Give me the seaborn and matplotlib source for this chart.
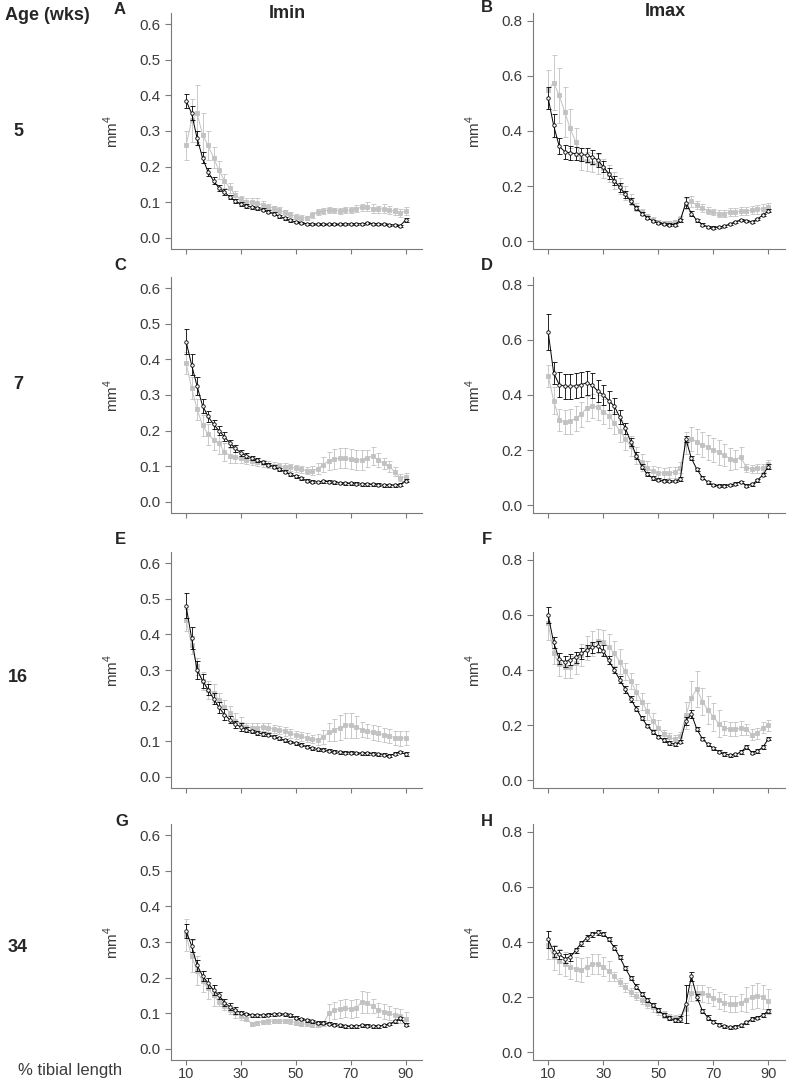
"""Imin / Imax along the tibia at four ages: black vs grey group, mean +/- error."""
import matplotlib

matplotlib.use("Agg")
import matplotlib.pyplot as plt
import pandas as pd
import seaborn as sns
from matplotlib.ticker import FormatStrFormatter

sns.set_theme(style="white")
plt.rcParams["font.family"] = ["Liberation Sans", "DejaVu Sans"]
plt.rcParams["mathtext.fontset"] = "custom"
plt.rcParams["mathtext.rm"] = "Liberation Sans"

W, H = 787, 1083
BLACK, GREY, AXIS, TXT = "#000000", "#c2c2c2", "#7a7a7a", "#3c3c3c"

PCT = list(range(10, 91, 2))  # % tibial length

# ---- A: Imin, 5 wks --------------------------------------------------------
A_BLK = [0.385, 0.35, 0.28, 0.225, 0.185, 0.16, 0.14, 0.128, 0.115, 0.103,
         0.095, 0.09, 0.086, 0.083, 0.079, 0.074, 0.068, 0.061, 0.055, 0.049,
         0.045, 0.042, 0.04, 0.039, 0.038, 0.038, 0.038, 0.038, 0.038, 0.039,
         0.039, 0.039, 0.04, 0.041, 0.04, 0.039, 0.038, 0.037, 0.036, 0.034,
         0.05]
A_BLK_ERR = [0.02, 0.02, 0.02, 0.015, 0.012, 0.01, 0.008, 0.008, 0.006, 0.006,
             0.005, 0.005, 0.004, 0.004, 0.004, 0.004, 0.004, 0.004, 0.004, 0.004,
             0.003, 0.003, 0.003, 0.003, 0.003, 0.003, 0.003, 0.003, 0.003, 0.003,
             0.003, 0.003, 0.003, 0.003, 0.003, 0.003, 0.003, 0.003, 0.003, 0.003,
             0.005]
A_GRY = [0.26, 0.33, 0.35, 0.29, 0.26, 0.225, 0.19, 0.16, 0.14, 0.12,
         0.108, 0.102, 0.1, 0.097, 0.093, 0.088, 0.083, 0.078, 0.072, 0.066,
         0.06, 0.057, 0.056, 0.065, 0.072, 0.076, 0.078, 0.077, 0.076, 0.078,
         0.078, 0.082, 0.086, 0.088, 0.082, 0.08, 0.082, 0.078, 0.075, 0.07,
         0.075]
A_GRY_ERR = [0.04, 0.06, 0.08, 0.06, 0.04, 0.03, 0.025, 0.02, 0.015, 0.012,
             0.01, 0.01, 0.012, 0.014, 0.01, 0.008, 0.008, 0.008, 0.007, 0.006,
             0.006, 0.006, 0.006, 0.008, 0.008, 0.008, 0.008, 0.008, 0.008, 0.008,
             0.008, 0.01, 0.01, 0.012, 0.012, 0.01, 0.012, 0.012, 0.01, 0.01,
             0.012]

# ---- B: Imax, 5 wks --------------------------------------------------------
B_BLK = [0.52, 0.42, 0.345, 0.325, 0.32, 0.318, 0.315, 0.312, 0.305, 0.295,
         0.27, 0.245, 0.22, 0.195, 0.17, 0.145, 0.12, 0.1, 0.085, 0.073,
         0.066, 0.062, 0.06, 0.06, 0.075, 0.14, 0.1, 0.075, 0.06, 0.052,
         0.049, 0.05, 0.055, 0.062, 0.07, 0.077, 0.074, 0.07, 0.08, 0.095,
         0.11]
B_BLK_ERR = [0.04, 0.04, 0.03, 0.025, 0.025, 0.025, 0.025, 0.025, 0.025, 0.025,
             0.02, 0.02, 0.018, 0.015, 0.012, 0.01, 0.008, 0.006, 0.005, 0.005,
             0.004, 0.004, 0.004, 0.004, 0.005, 0.02, 0.008, 0.005, 0.004, 0.004,
             0.004, 0.004, 0.004, 0.004, 0.004, 0.004, 0.004, 0.004, 0.005, 0.005,
             0.006]
B_GRY = [0.55, 0.575, 0.53, 0.47, 0.41, 0.36, 0.3, 0.29, 0.285, 0.28,
         0.265, 0.245, 0.22, 0.2, 0.175, 0.15, 0.125, 0.105, 0.09, 0.078,
         0.07, 0.066, 0.065, 0.068, 0.08, 0.135, 0.145, 0.13, 0.12, 0.11,
         0.105, 0.1, 0.1, 0.105, 0.105, 0.108, 0.11, 0.112, 0.115, 0.118,
         0.125]
B_GRY_ERR = [0.07, 0.1, 0.1, 0.09, 0.07, 0.05, 0.04, 0.035, 0.035, 0.035,
             0.035, 0.03, 0.03, 0.03, 0.025, 0.02, 0.015, 0.01, 0.01, 0.008,
             0.008, 0.008, 0.008, 0.008, 0.01, 0.02, 0.02, 0.015, 0.015, 0.012,
             0.012, 0.012, 0.012, 0.015, 0.015, 0.015, 0.015, 0.015, 0.015, 0.015,
             0.015]

# ---- C: Imin, 7 wks --------------------------------------------------------
C_BLK = [0.45, 0.385, 0.325, 0.27, 0.24, 0.218, 0.2, 0.183, 0.165, 0.15,
         0.138, 0.13, 0.123, 0.117, 0.111, 0.105, 0.099, 0.092, 0.085, 0.078,
         0.072, 0.066, 0.06, 0.057, 0.056, 0.058, 0.057, 0.055, 0.053, 0.052,
         0.052, 0.051, 0.05, 0.05, 0.049, 0.048, 0.047, 0.047, 0.047, 0.048,
         0.06]
C_BLK_ERR = [0.035, 0.03, 0.025, 0.02, 0.015, 0.012, 0.012, 0.012, 0.01, 0.01,
             0.008, 0.006, 0.006, 0.006, 0.005, 0.005, 0.005, 0.004, 0.004, 0.004,
             0.004, 0.004, 0.004, 0.004, 0.004, 0.004, 0.004, 0.004, 0.004, 0.004,
             0.004, 0.004, 0.004, 0.004, 0.004, 0.004, 0.004, 0.004, 0.004, 0.004,
             0.005]
C_GRY = [0.39, 0.32, 0.26, 0.215, 0.19, 0.175, 0.165, 0.14, 0.13, 0.125,
         0.122, 0.118, 0.115, 0.112, 0.108, 0.105, 0.102, 0.1, 0.098, 0.097,
         0.095, 0.092, 0.088, 0.088, 0.093, 0.105, 0.115, 0.12, 0.122, 0.122,
         0.12, 0.118, 0.118, 0.122, 0.13, 0.118, 0.108, 0.1, 0.085, 0.068,
         0.07]
C_GRY_ERR = [0.03, 0.03, 0.03, 0.03, 0.03, 0.03, 0.03, 0.025, 0.02, 0.015,
             0.012, 0.012, 0.01, 0.01, 0.01, 0.01, 0.01, 0.01, 0.01, 0.01,
             0.01, 0.01, 0.01, 0.012, 0.015, 0.02, 0.025, 0.028, 0.028, 0.028,
             0.028, 0.028, 0.028, 0.025, 0.025, 0.02, 0.015, 0.015, 0.012, 0.01,
             0.01]

# ---- D: Imax, 7 wks --------------------------------------------------------
D_BLK = [0.63, 0.48, 0.438, 0.432, 0.431, 0.434, 0.438, 0.444, 0.435, 0.415,
         0.4, 0.38, 0.36, 0.32, 0.28, 0.23, 0.18, 0.14, 0.112, 0.098,
         0.092, 0.088, 0.087, 0.087, 0.095, 0.24, 0.17, 0.13, 0.1, 0.083,
         0.073, 0.07, 0.07, 0.073, 0.078, 0.084, 0.07, 0.075, 0.09, 0.11,
         0.14]
D_BLK_ERR = [0.065, 0.04, 0.045, 0.045, 0.045, 0.045, 0.045, 0.045, 0.045, 0.04,
             0.035, 0.035, 0.03, 0.025, 0.02, 0.015, 0.012, 0.01, 0.008, 0.006,
             0.005, 0.005, 0.005, 0.005, 0.006, 0.012, 0.008, 0.006, 0.005, 0.005,
             0.005, 0.005, 0.005, 0.005, 0.005, 0.005, 0.005, 0.005, 0.005, 0.005,
             0.008]
D_GRY = [0.47, 0.38, 0.31, 0.302, 0.305, 0.315, 0.33, 0.352, 0.36, 0.355,
         0.34, 0.325, 0.3, 0.27, 0.24, 0.215, 0.18, 0.155, 0.135, 0.122,
         0.118, 0.116, 0.117, 0.12, 0.135, 0.225, 0.24, 0.23, 0.22, 0.21,
         0.2, 0.192, 0.182, 0.168, 0.165, 0.175, 0.135, 0.132, 0.133, 0.135,
         0.15]
D_GRY_ERR = [0.04, 0.05, 0.04, 0.045, 0.045, 0.045, 0.045, 0.045, 0.045, 0.045,
             0.045, 0.045, 0.04, 0.04, 0.04, 0.035, 0.03, 0.03, 0.025, 0.02,
             0.02, 0.02, 0.02, 0.02, 0.02, 0.04, 0.045, 0.045, 0.045, 0.045,
             0.045, 0.045, 0.04, 0.04, 0.035, 0.035, 0.015, 0.015, 0.015, 0.015,
             0.015]

# ---- E: Imin, 16 wks -------------------------------------------------------
E_BLK = [0.48, 0.39, 0.3, 0.27, 0.245, 0.22, 0.195, 0.175, 0.16, 0.148,
         0.14, 0.133, 0.128, 0.124, 0.121, 0.118, 0.113, 0.108, 0.103, 0.098,
         0.094, 0.09, 0.085, 0.08, 0.077, 0.076, 0.074, 0.071, 0.069, 0.068,
         0.068, 0.067, 0.066, 0.066, 0.065, 0.063, 0.062, 0.059, 0.065, 0.07,
         0.064]
E_BLK_ERR = [0.035, 0.03, 0.025, 0.02, 0.015, 0.015, 0.015, 0.015, 0.01, 0.01,
             0.01, 0.006, 0.005, 0.005, 0.005, 0.004, 0.004, 0.004, 0.004, 0.004,
             0.004, 0.004, 0.004, 0.004, 0.004, 0.004, 0.004, 0.004, 0.004, 0.004,
             0.004, 0.004, 0.004, 0.004, 0.004, 0.004, 0.004, 0.004, 0.004, 0.004,
             0.005]
E_GRY = [0.44, 0.37, 0.31, 0.27, 0.245, 0.235, 0.215, 0.195, 0.18, 0.158,
         0.148, 0.14, 0.138, 0.138, 0.14, 0.138, 0.135, 0.132, 0.128, 0.122,
         0.118, 0.114, 0.11, 0.106, 0.105, 0.112, 0.125, 0.132, 0.138, 0.145,
         0.145, 0.14, 0.133, 0.128, 0.125, 0.122, 0.118, 0.115, 0.11, 0.108,
         0.11]
E_GRY_ERR = [0.03, 0.025, 0.025, 0.025, 0.025, 0.025, 0.02, 0.02, 0.02, 0.02,
             0.02, 0.012, 0.012, 0.012, 0.012, 0.012, 0.012, 0.012, 0.012, 0.012,
             0.012, 0.012, 0.012, 0.012, 0.015, 0.02, 0.025, 0.03, 0.035, 0.035,
             0.035, 0.03, 0.02, 0.02, 0.02, 0.02, 0.02, 0.02, 0.02, 0.02,
             0.02]

# ---- F: Imax, 16 wks -------------------------------------------------------
F_BLK = [0.6, 0.5, 0.44, 0.43, 0.437, 0.447, 0.46, 0.472, 0.483, 0.486,
         0.47, 0.435, 0.4, 0.365, 0.33, 0.295, 0.26, 0.225, 0.198, 0.175,
         0.158, 0.145, 0.135, 0.13, 0.14, 0.215, 0.24, 0.185, 0.15, 0.13,
         0.115, 0.103, 0.095, 0.09, 0.093, 0.102, 0.12, 0.1, 0.105, 0.12,
         0.15]
F_BLK_ERR = [0.03, 0.02, 0.02, 0.02, 0.02, 0.02, 0.02, 0.02, 0.02, 0.02,
             0.02, 0.015, 0.012, 0.012, 0.012, 0.012, 0.01, 0.008, 0.006, 0.006,
             0.006, 0.006, 0.006, 0.006, 0.006, 0.015, 0.015, 0.008, 0.006, 0.006,
             0.006, 0.006, 0.006, 0.006, 0.006, 0.006, 0.006, 0.006, 0.006, 0.006,
             0.006]
F_GRY = [0.57, 0.46, 0.42, 0.412, 0.41, 0.425, 0.455, 0.48, 0.495, 0.505,
         0.5, 0.485, 0.46, 0.43, 0.395, 0.36, 0.32, 0.285, 0.25, 0.215,
         0.19, 0.168, 0.155, 0.148, 0.16, 0.235, 0.3, 0.33, 0.285, 0.255,
         0.23, 0.205, 0.19, 0.185, 0.185, 0.188, 0.185, 0.165, 0.17, 0.19,
         0.2]
F_GRY_ERR = [0.06, 0.04, 0.04, 0.04, 0.04, 0.04, 0.04, 0.045, 0.045, 0.045,
             0.045, 0.045, 0.045, 0.045, 0.03, 0.03, 0.03, 0.03, 0.03, 0.03,
             0.03, 0.015, 0.015, 0.015, 0.015, 0.05, 0.06, 0.065, 0.05, 0.05,
             0.05, 0.05, 0.025, 0.025, 0.025, 0.025, 0.02, 0.02, 0.02, 0.02,
             0.02]

# ---- G: Imin, 34 wks -------------------------------------------------------
G_BLK = [0.33, 0.29, 0.235, 0.205, 0.185, 0.165, 0.15, 0.13, 0.118, 0.108,
         0.102, 0.098, 0.095, 0.095, 0.095, 0.096, 0.097, 0.098, 0.097, 0.094,
         0.088, 0.084, 0.08, 0.077, 0.074, 0.073, 0.071, 0.068, 0.066, 0.064,
         0.063, 0.064, 0.066, 0.065, 0.064, 0.063, 0.066, 0.07, 0.077, 0.086,
         0.068]
G_BLK_ERR = [0.02, 0.018, 0.015, 0.015, 0.015, 0.015, 0.01, 0.01, 0.01, 0.01,
             0.005, 0.004, 0.004, 0.004, 0.004, 0.004, 0.004, 0.004, 0.004, 0.004,
             0.004, 0.004, 0.004, 0.004, 0.004, 0.004, 0.004, 0.004, 0.004, 0.004,
             0.004, 0.004, 0.004, 0.004, 0.004, 0.004, 0.004, 0.004, 0.004, 0.004,
             0.004]
G_GRY = [0.32, 0.26, 0.22, 0.19, 0.17, 0.15, 0.132, 0.12, 0.11, 0.1,
         0.092, 0.085, 0.07, 0.073, 0.076, 0.077, 0.078, 0.078, 0.078, 0.077,
         0.074, 0.071, 0.069, 0.068, 0.068, 0.07, 0.1, 0.108, 0.112, 0.115,
         0.112, 0.115, 0.132, 0.13, 0.12, 0.11, 0.105, 0.1, 0.095, 0.092,
         0.085]
G_GRY_ERR = [0.045, 0.045, 0.04, 0.03, 0.03, 0.03, 0.012, 0.012, 0.012, 0.012,
             0.012, 0.006, 0.006, 0.006, 0.006, 0.006, 0.006, 0.006, 0.006, 0.006,
             0.006, 0.006, 0.006, 0.006, 0.006, 0.006, 0.025, 0.025, 0.025, 0.025,
             0.025, 0.025, 0.03, 0.03, 0.02, 0.02, 0.02, 0.02, 0.02, 0.02,
             0.02]

# ---- H: Imax, 34 wks -------------------------------------------------------
H_BLK = [0.41, 0.365, 0.355, 0.34, 0.345, 0.37, 0.395, 0.415, 0.428, 0.435,
         0.43, 0.41, 0.38, 0.345, 0.305, 0.27, 0.238, 0.212, 0.19, 0.17,
         0.152, 0.135, 0.123, 0.116, 0.12, 0.175, 0.275, 0.2, 0.15, 0.125,
         0.11, 0.1, 0.093, 0.09, 0.092, 0.097, 0.108, 0.12, 0.125, 0.135,
         0.15]
H_BLK_ERR = [0.03, 0.02, 0.015, 0.015, 0.015, 0.01, 0.01, 0.01, 0.01, 0.01,
             0.008, 0.008, 0.008, 0.008, 0.008, 0.008, 0.008, 0.008, 0.008, 0.008,
             0.008, 0.008, 0.008, 0.008, 0.01, 0.07, 0.015, 0.01, 0.008, 0.008,
             0.006, 0.006, 0.006, 0.006, 0.006, 0.006, 0.006, 0.006, 0.006, 0.006,
             0.008]
H_GRY = [0.39, 0.345, 0.33, 0.32, 0.31, 0.302, 0.298, 0.31, 0.32, 0.32,
         0.31, 0.295, 0.275, 0.255, 0.235, 0.218, 0.205, 0.19, 0.175, 0.162,
         0.148, 0.137, 0.127, 0.122, 0.125, 0.155, 0.215, 0.215, 0.213, 0.208,
         0.198, 0.188, 0.18, 0.175, 0.175, 0.18, 0.19, 0.2, 0.205, 0.2,
         0.185]
H_GRY_ERR = [0.05, 0.045, 0.045, 0.045, 0.045, 0.045, 0.045, 0.035, 0.035, 0.035,
             0.035, 0.035, 0.015, 0.015, 0.015, 0.015, 0.015, 0.015, 0.015, 0.015,
             0.012, 0.012, 0.012, 0.012, 0.012, 0.02, 0.03, 0.03, 0.03, 0.03,
             0.03, 0.03, 0.03, 0.03, 0.03, 0.03, 0.045, 0.045, 0.045, 0.045,
             0.045]

PANELS = {
    "A": (A_BLK, A_BLK_ERR, A_GRY, A_GRY_ERR),
    "B": (B_BLK, B_BLK_ERR, B_GRY, B_GRY_ERR),
    "C": (C_BLK, C_BLK_ERR, C_GRY, C_GRY_ERR),
    "D": (D_BLK, D_BLK_ERR, D_GRY, D_GRY_ERR),
    "E": (E_BLK, E_BLK_ERR, E_GRY, E_GRY_ERR),
    "F": (F_BLK, F_BLK_ERR, F_GRY, F_GRY_ERR),
    "G": (G_BLK, G_BLK_ERR, G_GRY, G_GRY_ERR),
    "H": (H_BLK, H_BLK_ERR, H_GRY, H_GRY_ERR),
}
AGES = ["5", "7", "16", "34"]

rows = []
for key, (blk, blk_err, gry, gry_err) in PANELS.items():
    for grp, vals, errs in (("grey", gry, gry_err), ("black", blk, blk_err)):
        rows += [dict(panel=key, group=grp, pct=p, value=v, err=e)
                 for p, v, e in zip(PCT, vals, errs)]
df = pd.DataFrame(rows)

# layout in pixels (left, width) per column, (bottom) per row
COL_X = [(171, 251), (533, 252)]
ROW_BOTTOM = [249, 513, 788, 1060]
AX_H = 236
LETTER_XY = {"A": (120, 9), "B": (487, 8), "C": (120, 266), "D": (487, 266),
             "E": (120, 540), "F": (487, 540), "G": (122, 821), "H": (487, 821)}


def fig_text(fig, x, y, s, **kw):
    fig.text(x / W, 1 - y / H, s, va="center", **kw)


def draw_panel(ax, d):
    styles = (("grey", GREY, "s", 2.6, GREY), ("black", BLACK, "o", 2.5, "white"))
    for grp, color, marker, ms, mfc in styles:
        s = d[d["group"] == grp]
        ax.errorbar(s["pct"], s["value"], yerr=s["err"], fmt="none", ecolor=color,
                    elinewidth=0.6, capsize=1.8, capthick=0.6)
        sns.lineplot(data=s, x="pct", y="value", color=color, lw=0.7,
                     marker=marker, markersize=ms, markerfacecolor=mfc,
                     markeredgecolor=color, markeredgewidth=0.6,
                     errorbar=None, legend=False, ax=ax)


fig = plt.figure(figsize=(W / 100, H / 100), dpi=100)
for i, key in enumerate(PANELS):
    r, c = divmod(i, 2)
    left, width = COL_X[c]
    ax = fig.add_axes([left / W, 1 - ROW_BOTTOM[r] / H, width / W, AX_H / H])
    draw_panel(ax, df[df["panel"] == key])

    ax.set_xlim(4.5, 96)
    ax.set_xticks([10, 30, 50, 70, 90])
    if c == 0:
        ax.set_ylim(-0.031, 0.631)
        ax.set_yticks([0.0, 0.1, 0.2, 0.3, 0.4, 0.5, 0.6])
    else:
        ax.set_ylim(-0.029, 0.829)
        ax.set_yticks([0.0, 0.2, 0.4, 0.6, 0.8])
    ax.yaxis.set_major_formatter(FormatStrFormatter("%.1f"))
    if r < 3:
        ax.set_xticklabels([])
    ax.set_xlabel("")
    ax.set_ylabel("mm$^4$", fontsize=11, color=TXT)
    ax.yaxis.set_label_coords(-0.2, 0.5)

    sns.despine(ax=ax)
    for side in ("left", "bottom"):
        ax.spines[side].set_color(AXIS)
        ax.spines[side].set_linewidth(0.8)
    ax.tick_params(direction="out", length=4, width=0.8, color=AXIS,
                   labelsize=11, labelcolor=TXT, bottom=True, left=True)
    ax.tick_params(axis="x", length=3.5, pad=1.5, labelsize=10.5)

    lx, ly = LETTER_XY[key]
    fig_text(fig, lx, ly, key, ha="center", fontsize=12, fontweight="bold")

fig_text(fig, 5, 15, "Age (wks)", ha="left", fontsize=13, fontweight="bold")
fig_text(fig, 287, 13, "Imin", ha="center", fontsize=13, fontweight="bold")
fig_text(fig, 665, 11, "Imax", ha="center", fontsize=13, fontweight="bold")
for age, y in zip(AGES, [131, 385, 677, 948]):
    fig_text(fig, 18, y, age, ha="center", fontsize=13, fontweight="bold")
fig_text(fig, 18, 1070, "% tibial length", ha="left", fontsize=12, color=TXT)

fig.savefig("out.png", dpi=100)
plt.close(fig)
